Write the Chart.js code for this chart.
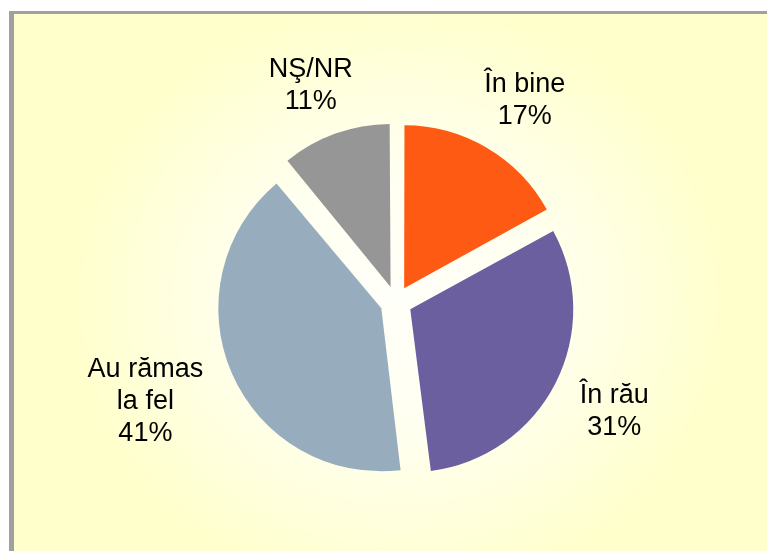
<!DOCTYPE html>
<html lang="ro">
<head>
    <meta charset="UTF-8">
    <title>Evoluție</title>
    <script src="https://cdn.jsdelivr.net/npm/chart.js"></script>
    <style>
        html, body {
            margin: 0;
            padding: 0;
            background: #ffffff;
            width: 767px;
            height: 551px;
            overflow: hidden;
        }
        .frame {
            position: absolute;
            left: 9px;
            top: 11px;
            width: 780px;
            height: 560px;
            border-left: 5px solid #a0a0a0;
            border-top: 3px solid #a0a0a0;
            background: radial-gradient(ellipse 330px 300px at 385px 285px, #fffffa 0%, #fffff0 45%, #ffffcc 100%);
        }
        #chart {
            position: absolute;
            left: 0;
            top: 0;
        }
    </style>
</head>
<body>
    <div class="frame"></div>
    <canvas id="chart" width="767" height="551"></canvas>
    <script>
        // date
        const categories = ['În bine', 'În rău', 'Au rămas la fel', 'NŞ/NR'];
        const labelLines = [['În bine'], ['În rău'], ['Au rămas', 'la fel'], ['NŞ/NR']];
        const values = [17, 31, 41, 11];
        const colors = ['#ff5a14', '#6b5fa0', '#97adbe', '#969696'];

        const explode = 64; // chart.js muta felia cu offset/4

        // chart.js mareste raza feliilor cu offset - o corectam
        const fixRadius = {
            id: 'fixRadius',
            afterDatasetUpdate(chart) {
                chart.getDatasetMeta(0).data.forEach(function (arc) {
                    const c = arc.endAngle - arc.startAngle;
                    const fix = 1 - Math.sin(Math.min(Math.PI, c));
                    arc.outerRadius -= (explode / 4) * fix;
                });
            }
        };

        // etichete in afara pie-ului
        const outLabels = {
            id: 'outLabels',
            afterDatasetsDraw(chart) {
                const ctx = chart.ctx;
                const lineH = 32;
                ctx.save();
                ctx.font = '27px "Liberation Sans", Arial, sans-serif';
                ctx.fillStyle = '#000';
                ctx.textAlign = 'center';
                ctx.textBaseline = 'middle';
                chart.getDatasetMeta(0).data.forEach(function (arc, i) {
                    const lines = labelLines[i].concat([values[i] + '%']);
                    const mid = (arc.startAngle + arc.endAngle) / 2;
                    const dx = Math.cos(mid), dy = Math.sin(mid);
                    let w = 0;
                    lines.forEach(function (t) { w = Math.max(w, ctx.measureText(t).width); });
                    const h = lines.length * lineH;
                    const base = arc.outerRadius + explode / 4 + 12;
                    const cx = arc.x + dx * (base + w * 0.74 + 4);
                    const cy = arc.y + 2 + dy * (base + h / 2 + 15);
                    lines.forEach(function (t, k) {
                        ctx.fillText(t, cx, cy - h / 2 + lineH * (k + 0.5));
                    });
                });
                ctx.restore();
            }
        };

        new Chart(document.getElementById('chart'), {
            type: 'pie',
            data: {
                labels: categories,
                datasets: [{
                    data: values,
                    backgroundColor: colors,
                    borderWidth: 0,
                    offset: explode
                }]
            },
            options: {
                responsive: false,
                animation: false,
                layout: {
                    padding: { left: 201, right: 176, top: 107, bottom: 54 }
                },
                plugins: {
                    legend: { display: false },
                    tooltip: { enabled: false }
                }
            },
            plugins: [fixRadius, outLabels]
        });
    </script>
</body>
</html>
